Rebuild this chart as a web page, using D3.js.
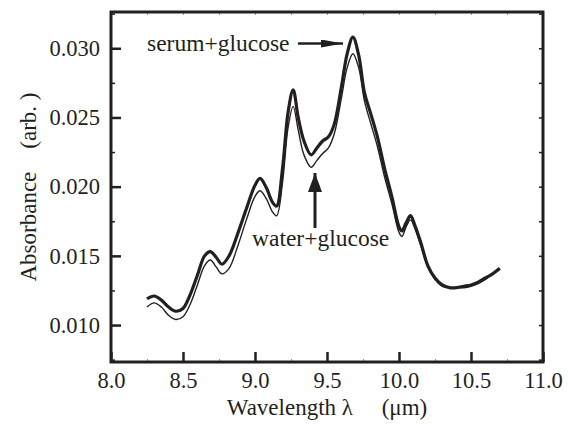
<!DOCTYPE html>
<html>
  <head>
    <meta charset="UTF-8" />
    <style>
      body {
        margin: 0;
        background: #fff;
      }
      svg text {
        font-family: "Liberation Serif" !important;
      }
    </style>
  </head>
  <body>
    <svg width="568" height="424"></svg>
    <script src="https://d3js.org/d3.v7.min.js"></script>
    <script>
      // wavelength (um) and absorbance
      const wavelength = [
        8.25, 8.3, 8.35, 8.4, 8.45, 8.5, 8.55, 8.6, 8.65, 8.69, 8.73, 8.77,
        8.82, 8.88, 8.94, 9.0, 9.035, 9.08, 9.12, 9.15, 9.19, 9.23, 9.265, 9.3,
        9.34, 9.39, 9.43, 9.47, 9.51, 9.55, 9.6, 9.64, 9.68, 9.72, 9.76, 9.8,
        9.85, 9.9, 9.95, 10.0, 10.02, 10.05, 10.08, 10.11, 10.15, 10.2, 10.25,
        10.3, 10.35, 10.4, 10.45, 10.5, 10.55, 10.6, 10.65, 10.7,
      ];
      const serumGlucose = [
        0.0119, 0.0121, 0.0118, 0.0113, 0.011, 0.0112, 0.0122, 0.0136, 0.015,
        0.0153, 0.0149, 0.0144, 0.015, 0.0166, 0.0184, 0.0201, 0.0206, 0.0199,
        0.0189, 0.0186, 0.0212, 0.0254, 0.027, 0.025, 0.0233, 0.0223, 0.0228,
        0.0233, 0.0236, 0.0245, 0.0272, 0.0296, 0.0308, 0.0295, 0.0268,
        0.0254, 0.0236, 0.0213, 0.0193, 0.0171, 0.0168, 0.0174, 0.0179, 0.0172,
        0.016, 0.0143, 0.0134, 0.0129, 0.0127, 0.0127, 0.0128, 0.0129, 0.0131,
        0.0134, 0.0137, 0.0141,
      ];
      const waterGlucose = [
        0.0113, 0.0116, 0.0113, 0.0107, 0.0104, 0.0106, 0.0115, 0.0129, 0.0143,
        0.0147, 0.0142, 0.0137, 0.0141, 0.0157, 0.0176, 0.0193, 0.0197, 0.0191,
        0.0182, 0.0179, 0.0202, 0.0243, 0.0258, 0.0241, 0.0223, 0.0214,
        0.0219, 0.0224, 0.0228, 0.0238, 0.0264, 0.0286, 0.0296, 0.0286,
        0.0262, 0.0247, 0.0229, 0.0207, 0.0188, 0.0167, 0.0164, 0.0171, 0.0176,
        0.017, 0.0158, 0.0142, 0.0133, 0.0128, 0.0127, 0.0127, 0.0127, 0.0128,
        0.013, 0.0133, 0.0137, 0.014,
      ];
      const xTicks = [8.0, 8.5, 9.0, 9.5, 10.0, 10.5, 11.0];
      const xMinor = [8.25, 8.75, 9.25, 9.75, 10.25, 10.75];
      const yTicks = [0.01, 0.015, 0.02, 0.025, 0.03];
      const yMinor = [0.0075, 0.0125, 0.0175, 0.0225, 0.0275, 0.0325];

      let plotLeft = 111,
        plotRight = 543,
        plotTop = 12,
        plotBottom = 362;
      const ink = "#231f20";
      const fontName = "Liberation Serif";

      let svg = d3.select("svg");

      let x = d3.scaleLinear().domain([8, 11]).range([plotLeft, plotRight]);
      let y = d3
        .scaleLinear()
        .domain([0.00733, 0.03262])
        .range([plotBottom, plotTop]);

      function styleAxis(g) {
        g.attr("font-family", fontName).attr("font-size", 22.5);
        g.select(".domain").remove();
        g.selectAll("line").attr("stroke", ink);
        g.selectAll("text").attr("font-family", fontName).attr("fill", ink);
      }

      // minor ticks (light, short)
      svg
        .append("g")
        .attr("transform", "translate(0," + plotBottom + ")")
        .call(d3.axisBottom(x).tickValues(xMinor).tickSize(-3).tickFormat(""))
        .call(styleAxis)
        .selectAll("line")
        .attr("stroke", "#999");
      svg
        .append("g")
        .attr("transform", "translate(0," + plotTop + ")")
        .call(
          d3.axisTop(x).tickValues(xMinor.concat(xTicks)).tickSize(-3).tickFormat("")
        )
        .call(styleAxis)
        .selectAll("line")
        .attr("stroke", "#999");
      svg
        .append("g")
        .attr("transform", "translate(" + plotLeft + ",0)")
        .call(d3.axisLeft(y).tickValues(yMinor).tickSize(-4).tickFormat(""))
        .call(styleAxis)
        .selectAll("line")
        .attr("stroke-width", 1.5);
      svg
        .append("g")
        .attr("transform", "translate(" + plotRight + ",0)")
        .call(
          d3.axisRight(y).tickValues(yMinor.concat(yTicks)).tickSize(-4).tickFormat("")
        )
        .call(styleAxis)
        .selectAll("line")
        .attr("stroke-width", 1.5);

      // major ticks with labels
      svg
        .append("g")
        .attr("transform", "translate(0," + plotBottom + ")")
        .call(
          d3
            .axisBottom(x)
            .tickValues(xTicks)
            .tickSize(-10)
            .tickPadding(10)
            .tickFormat(d3.format(".1f"))
        )
        .call(styleAxis)
        .selectAll("line")
        .attr("stroke-width", 2.5);
      svg
        .append("g")
        .attr("transform", "translate(" + plotLeft + ",0)")
        .call(
          d3
            .axisLeft(y)
            .tickValues(yTicks)
            .tickSize(-10)
            .tickPadding(11)
            .tickFormat(d3.format(".3f"))
        )
        .call(styleAxis)
        .selectAll("line")
        .attr("stroke-width", 2.5);

      // frame
      svg
        .append("rect")
        .attr("x", plotLeft)
        .attr("y", plotTop)
        .attr("width", plotRight - plotLeft)
        .attr("height", plotBottom - plotTop)
        .attr("fill", "none")
        .attr("stroke", ink)
        .attr("stroke-width", 3);

      let line = d3
        .line()
        .x((d) => x(d[0]))
        .y((d) => y(d[1]))
        .curve(d3.curveCatmullRom);

      svg
        .append("path")
        .datum(wavelength.map((w, i) => [w, waterGlucose[i]]))
        .attr("d", line)
        .attr("fill", "none")
        .attr("stroke", ink)
        .attr("stroke-width", 1.4);
      svg
        .append("path")
        .datum(wavelength.map((w, i) => [w, serumGlucose[i]]))
        .attr("d", line)
        .attr("fill", "none")
        .attr("stroke", ink)
        .attr("stroke-width", 3.2)
        .attr("stroke-linejoin", "round");

      // arrowheads
      svg
        .append("defs")
        .selectAll("marker")
        .data([
          { id: "headR", w: 22, h: 8 },
          { id: "headU", w: 19, h: 14 },
        ])
        .enter()
        .append("marker")
        .attr("id", (d) => d.id)
        .attr("markerUnits", "userSpaceOnUse")
        .attr("viewBox", (d) => "0 " + -d.h / 2 + " " + d.w + " " + d.h)
        .attr("refX", (d) => d.w)
        .attr("refY", 0)
        .attr("markerWidth", (d) => d.w)
        .attr("markerHeight", (d) => d.h)
        .attr("orient", "auto")
        .append("path")
        .attr("d", (d) => "M0," + -d.h / 2 + "L" + d.w + ",0L0," + d.h / 2 + "Z")
        .attr("fill", ink);

      function label(px, py, txt, size) {
        return svg
          .append("text")
          .attr("x", px)
          .attr("y", py)
          .attr("fill", ink)
          .attr("font-family", fontName)
          .attr("font-size", size)
          .text(txt);
      }

      // serum+glucose label, arrow pointing right at the main peak
      label(147, 51, "serum+glucose", 23.5);
      svg
        .append("line")
        .attr("x1", 298)
        .attr("y1", 43.5)
        .attr("x2", 343)
        .attr("y2", 43.5)
        .attr("stroke", ink)
        .attr("stroke-width", 2.5)
        .attr("marker-end", "url(#headR)");

      // water+glucose label, arrow pointing up at the dip
      svg
        .append("line")
        .attr("x1", 315)
        .attr("y1", 228)
        .attr("x2", 315)
        .attr("y2", 173)
        .attr("stroke", ink)
        .attr("stroke-width", 3)
        .attr("marker-end", "url(#headU)");
      label(252, 246, "water+glucose", 23.5);

      // axis titles (extra spaces kept with no-break spaces)
      label(
        (plotLeft + plotRight) / 2,
        415,
        "Wavelength \u03bb\u00a0\u00a0\u00a0\u00a0 (\u03bcm)",
        23
      ).attr("text-anchor", "middle");
      label(0, 0, "Absorbance\u00a0\u00a0\u00a0 (arb.\u00a0)", 23)
        .attr("text-anchor", "middle")
        .attr(
          "transform",
          "translate(36," + (plotTop + plotBottom) / 2 + ") rotate(-90)"
        );
    </script>
  </body>
</html>
